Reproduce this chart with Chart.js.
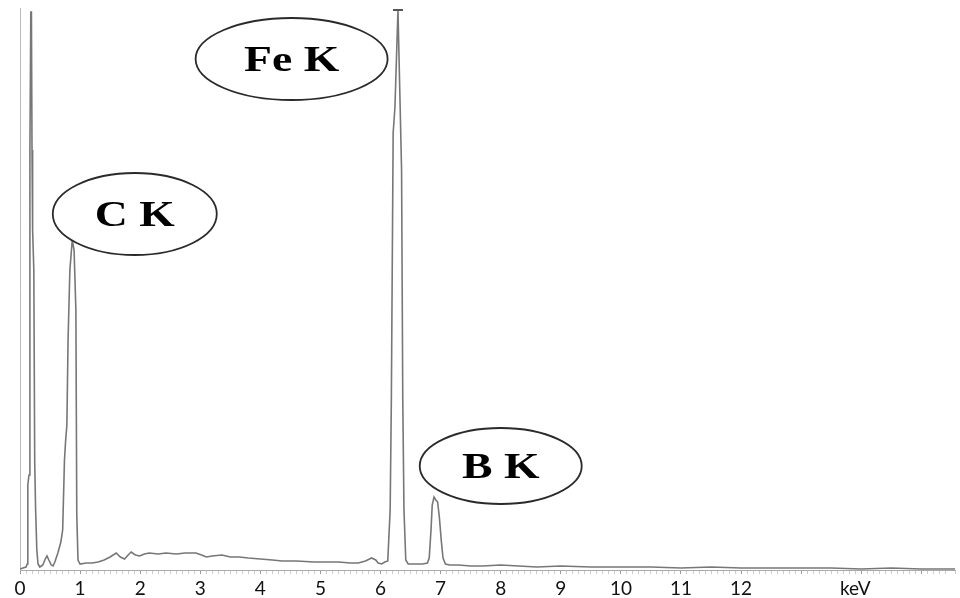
<!DOCTYPE html>
<html>
<head>
<meta charset="utf-8">
<script src="https://cdn.jsdelivr.net/npm/chart.js@4.4.0/dist/chart.umd.min.js"></script>
<style>
  html, body { margin: 0; padding: 0; background: #fff; }
  #wrap { width: 960px; height: 598px; }
</style>
</head>
<body>
<div id="wrap"><canvas id="eds" width="960" height="598"></canvas></div>
<script>
// EDS spectrum, energy in keV vs counts (arbitrary units)
const energy = [
  0.00, 0.05, 0.10, 0.12, 0.13, 0.15, 0.165, 0.18, 0.19, 0.20, 0.21, 0.23, 0.245, 0.26, 0.28, 0.30, 0.33,
  0.38, 0.42, 0.45, 0.48, 0.52, 0.55, 0.58, 0.63, 0.68, 0.71, 0.74, 0.76, 0.78, 0.80, 0.83, 0.87, 0.90,
  0.93, 0.945, 0.965, 1.00, 1.10, 1.20, 1.30, 1.40, 1.50, 1.60, 1.67, 1.74, 1.80, 1.85, 1.92, 1.99, 2.07,
  2.15, 2.30, 2.43, 2.60, 2.75, 2.93, 3.02, 3.10, 3.20, 3.36, 3.50, 3.65, 3.80, 4.00, 4.20, 4.36, 4.60,
  4.90, 5.10, 5.30, 5.50, 5.63, 5.75, 5.85, 5.92, 5.96, 6.02, 6.07, 6.12, 6.16, 6.18, 6.21, 6.24, 6.29,
  6.32, 6.35, 6.37, 6.39, 6.42, 6.46, 6.50, 6.60, 6.70, 6.78, 6.81, 6.84, 6.86, 6.89, 6.92, 6.95, 6.98,
  7.01, 7.04, 7.08, 7.15, 7.30, 7.50, 7.70, 8.00, 8.30, 8.60, 9.00, 9.50, 10.0, 10.5, 11.0, 11.5, 12.0,
  12.5, 13.0, 13.5, 14.0, 14.5, 15.0, 15.6
];
const counts = [
  1, 2, 3, 6, 85, 95, 420, 558, 558, 420, 340, 300, 107, 60, 20, 6, 3,
  5, 11, 14, 10, 5, 4, 8, 17, 28, 40, 110, 130, 145, 230, 300, 330, 320,
  260, 55, 10, 6, 7, 7, 8, 10, 13, 17, 13, 11, 15, 18, 15, 14, 16,
  17, 16, 17, 16, 17, 17, 15, 13, 14, 15, 13, 13, 12, 11, 10, 9, 9,
  8, 8, 8, 7, 7, 9, 12, 10, 7, 6, 8, 9, 60, 170, 437, 463, 560,
  480, 400, 170, 60, 10, 6, 6, 6, 6, 7, 12, 40, 65, 73, 70, 68, 52,
  30, 12, 6, 5, 5, 4, 4, 5, 4, 3, 4, 3, 3, 3, 2, 3, 2,
  2, 2, 2, 1, 2, 1, 1
];
const tickLabels = ['0', '1', '2', '3', '4', '5', '6', '7', '8', '9', '10', '11', '12'];
const unitLabel = 'keV';
const unitAt = 13.9;

// peak callouts: text and anchor (keV, counts)
const calloutText = ['Fe K', 'C K', 'B K'];
const calloutKeV = [4.52, 1.91, 8.0];
const calloutCounts = [511, 356, 104];

const points = energy.map((e, i) => ({ x: e, y: counts[i] }));
const peakIdx = counts.indexOf(560);

const callouts = {
  id: 'callouts',
  afterDatasetsDraw(chart) {
    const { ctx, scales: { x, y } } = chart;
    const radii = [[96, 41], [82, 41], [81, 38]];
    ctx.save();
    calloutText.forEach((t, i) => {
      const cx = x.getPixelForValue(calloutKeV[i]);
      const cy = y.getPixelForValue(calloutCounts[i]);
      ctx.beginPath();
      ctx.ellipse(cx, cy, radii[i][0], radii[i][1], 0, 0, Math.PI * 2);
      ctx.fillStyle = '#fff';
      ctx.fill();
      ctx.lineWidth = 1.8;
      ctx.strokeStyle = '#2a2a2a';
      ctx.stroke();

      ctx.save();
      ctx.translate(cx, cy);
      ctx.scale(1.27, 1);
      ctx.font = 'bold 36px "Liberation Serif", "DejaVu Serif", serif';
      ctx.fillStyle = '#000';
      ctx.textAlign = 'center';
      ctx.textBaseline = 'alphabetic';
      ctx.fillText(t, 0, 12);
      ctx.restore();
    });
    ctx.restore();
  }
};

new Chart(document.getElementById('eds'), {
  type: 'line',
  data: {
    datasets: [
      {
        data: points,
        borderColor: '#777',
        borderWidth: 1.6,
        tension: 0,
        fill: false,
        pointRadius: (c) => (c.dataIndex === peakIdx ? 5 : 0),
        pointStyle: 'line',
        pointBorderColor: '#555',
        pointBorderWidth: 2,
      },
    ],
  },
  options: {
    responsive: false,
    animation: false,
    layout: { padding: { left: 20, top: 8, right: 0, bottom: -5 } },
    plugins: { legend: { display: false }, tooltip: { enabled: false } },
    scales: {
      x: {
        type: 'linear',
        min: 0,
        max: 15.56,
        ticks: {
          stepSize: 0.1,
          autoSkip: false,
          maxRotation: 0,
          padding: 5,
          color: '#111',
          font: { family: 'Lato, "Open Sans", sans-serif', size: 19, lineHeight: 1 },
          callback: (v) => {
            const r = Math.round(v);
            if (Math.abs(v - r) < 1e-6 && r < tickLabels.length) return tickLabels[r];
            if (Math.abs(v - unitAt) < 1e-6) return unitLabel;
            return '';
          },
        },
        grid: {
          drawOnChartArea: false,
          tickLength: 4,
          tickColor: (c) => (Math.abs(c.tick.value - Math.round(c.tick.value)) < 1e-6 ? '#999' : '#ccc'),
        },
        border: { color: '#aaa', width: 1 },
      },
      y: {
        min: 0,
        max: 562,
        ticks: { display: false },
        grid: { display: false, drawTicks: false },
        border: { display: true, color: '#bbb', width: 1 },
      },
    },
  },
  plugins: [callouts],
});
</script>
</body>
</html>
